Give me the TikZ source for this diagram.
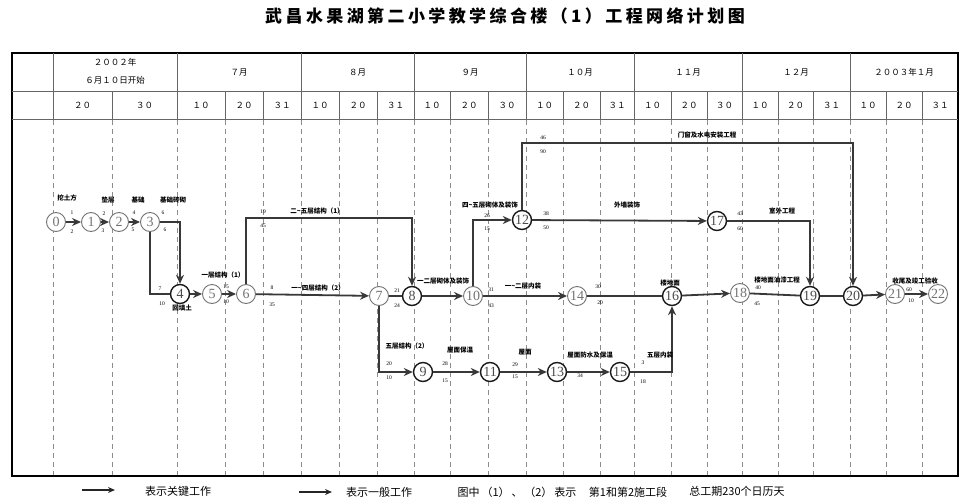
\documentclass[tikz,border=0pt]{standalone}
\usepackage{fontspec}
\setmainfont{Liberation Serif}
\newfontfamily\cjk{Noto Sans CJK SC}
\usetikzlibrary{arrows.meta}

\tikzset{
  evt/.style={circle, draw=black!55, line width=0.9pt, fill=white, minimum size=19pt,
    inner sep=0pt, text=black!55, font=\fontsize{14}{14}\selectfont},
  keyevt/.style={evt, draw=black!90, line width=1.4pt, text=black!70},
  work/.style={draw=black!78, line width=1.8pt},
  arr/.style={work, -{Stealth[length=9pt, width=8pt]}},
  dur/.style={font=\fontsize{5.5}{5.5}\selectfont, inner sep=0pt},
  task/.style={font=\cjk\bfseries\fontsize{6.5}{6.5}\selectfont, inner sep=0pt},
  hdr/.style={font=\cjk\fontsize{8.5}{9}\selectfont, inner sep=0pt},
  hline/.style={draw=black!60, line width=0.8pt},
  tgrid/.style={draw=black!45, dash pattern=on 5pt off 4pt, line width=0.7pt},
  legend/.style={font=\cjk\fontsize{11}{11}\selectfont, inner sep=0pt},
  legarr/.style={draw=black!85, line width=1.3pt, -{Stealth[length=7pt, width=6pt]}},
}

\begin{document}
\begin{tikzpicture}[x=1pt, y=-1pt]
  \useasboundingbox (0,0) rectangle (973,503);

  % title
  \node[font=\cjk\bfseries\fontsize{17}{17}\selectfont\addfontfeature{LetterSpace=20}] (title) at (505,16)
    {武昌水果湖第二小学教学综合楼（1）工程网络计划图};

  % time table
  \draw[line width=1.3pt] (12,53) rectangle (958,476);
  \draw[hline] (12,91) -- (958,91) (12,119) -- (958,119);
  \foreach \x in {53,177,301,414,526,634,742,850}
    \draw[hline] (\x,53) -- (\x,119);
  \foreach \x in {112,225,263,339,377,450,488,563,600,671,707,778,813,886,922}
    \draw[hline] (\x,91) -- (\x,119);
  \foreach \x in {53,112,177,225,263,301,339,377,414,450,488,526,563,600,634,671,707,742,778,813,850,886,922}
    \draw[tgrid] (\x,120) -- (\x,475);

  \node[hdr] (y2002) at (115,62) {２００２年};
  \node[hdr] (start) at (115,80) {６月１０日开始};
  \foreach \a/\b/\t in {177/301/７月, 301/414/８月, 414/526/９月, 526/634/１０月,
      634/742/１１月, 742/850/１２月, 850/958/２００３年１月}
    \node[hdr] (m\a) at ({(\a+\b)/2},72) {\t};
  \foreach \a/\b/\t in {53/112/２０, 112/177/３０, 177/225/１０, 225/263/２０, 263/301/３１,
      301/339/１０, 339/377/２０, 377/414/３１, 414/450/１０, 450/488/２０, 488/526/３０,
      526/563/１０, 563/600/２０, 600/634/３１, 634/671/１０, 671/707/２０, 707/742/３０,
      742/778/１０, 778/813/２０, 813/850/３１, 850/886/１０, 886/922/２０, 922/958/３１}
    \node[hdr] (d\a) at ({(\a+\b)/2},105) {\t};

  % events
  \node[evt] (N0) at (56,222) {0};
  \node[evt] (N1) at (91,222) {1};
  \node[evt] (N2) at (119,222) {2};
  \node[evt] (N3) at (150,222) {3};
  \node[keyevt] (N4) at (180,294) {4};
  \node[evt] (N5) at (212,294) {5};
  \node[evt] (N6) at (246,294) {6};
  \node[evt] (N7) at (379,296) {7};
  \node[keyevt] (N8) at (412,296) {8};
  \node[keyevt] (N9) at (423,372) {9};
  \node[evt] (N10) at (473,296) {10};
  \node[keyevt] (N11) at (490,372) {11};
  \node[keyevt] (N12) at (522,220) {12};
  \node[keyevt] (N13) at (557,372) {13};
  \node[evt] (N14) at (577,296) {14};
  \node[keyevt] (N15) at (620,372) {15};
  \node[keyevt] (N16) at (672,296) {16};
  \node[keyevt] (N17) at (717,221) {17};
  \node[evt] (N18) at (740,293) {18};
  \node[keyevt] (N19) at (810,296) {19};
  \node[keyevt] (N20) at (853,296) {20};
  \node[evt] (N21) at (895,294) {21};
  \node[evt] (N22) at (938,294) {22};

  \coordinate (B68) at (412,218);
  \coordinate (B1220) at (853,143);

  % works
  \path[arr] (N0) edge (N1)
    (N1) edge (N2)
    (N2) edge (N3)
    (N4) edge (N5)
    (N5) edge (N6)
    (N6) edge (N7)
    (N8) edge (N10)
    (N10) edge (N14)
    (N12) edge (N17)
    (N16) edge (N18)
    (N20) edge (N21)
    (N21) edge (N22)
    (N9) edge (N11)
    (N11) edge (N13)
    (N13) edge (N15);
  \path[work] (N7) edge (N8)
    (N14) edge (N16)
    (N18) edge (N19)
    (N19) edge (N20);
  \draw[arr] (N3) -| (N4);
  \draw[work] (N3) |- (N4);
  \draw[arr] (N6) |- (B68) -- (N8);
  \draw[arr] (N10) |- (N12);
  \draw[arr] (N12) |- (B1220) -- (N20);
  \draw[arr] (N17) -| (N19);
  \draw[arr] (N7) |- (N9);
  \draw[arr] (N15) -| (N16);

  % durations
  \foreach \t/\x/\y [count=\i] in {1/72/213, 2/72/232, 2/104/214, 3/103/231, 4/134/213, 5/133/230,
      6/163/213, 6/165/230, 7/160/289, 10/162/304, 15/226/287, 10/226/302,
      19/263/212, 45/263/226, 8/272/288, 35/272/305, 21/397/291, 24/397/306,
      26/487/216, 15/487/229, 46/543/138, 90/543/152, 38/546/214, 50/546/228,
      43/740/214, 60/740/229, 31/491/290, 43/491/306, 30/598/287, 20/600/303,
      40/758/288, 45/757/304, 60/909/290, 10/911/301, 20/389/364, 10/389/378,
      28/445/364, 15/445/381, 29/515/365, 15/515/377, 34/580/376, 3/643/363, 18/643/382}
    \node[dur] (t\i) at (\x,\y) {\t};

  % works' names
  \foreach \t/\x/\y [count=\i] in {挖土方/67/198, 垫层/108/200, 基础/138/200, 基础砖砌/173/200,
      回填土/182/308, 一层结构（1）/223/275, 二\~{}五层结构（1）/317/211,
      一\~{}四层结构（2）/318/288, 一二层砌体及装饰/443/281, 四\~{}五层砌体及装饰/490/205,
      外墙装饰/627/205, 门窗及水电安装工程/707/135, 室外工程/782/211,
      一\~{}二层内装/523/286, 楼地面/670/283, 楼地面油漆工程/777/280,
      收尾及竣工验收/915/281, 五层结构（2）/407/346, 屋面保温/460/350, 屋面/525/352,
      屋面防水及保温/590/355, 五层内装/660/355}
    \node[task] (w\i) at (\x,\y) {\t};

  % legend
  \coordinate (L1a) at (82,490);
  \coordinate (L1b) at (115,490);
  \coordinate (L2a) at (299,492);
  \coordinate (L2b) at (332,492);
  \draw[legarr] (L1a) -- (L1b);
  \draw[legarr] (L2a) -- (L2b);
  \node[legend] (key) at (178,491) {表示关键工作};
  \node[legend] (gen) at (379,492) {表示一般工作};
  \node[legend] (sec) at (517,492) {图中\,（1）\,、\,（2）\,表示};
  \node[legend] (sec2) at (628,492) {第1和第2施工段};
  \node[legend] (total) at (737,491) {总工期230个日历天};
\end{tikzpicture}
\end{document}
